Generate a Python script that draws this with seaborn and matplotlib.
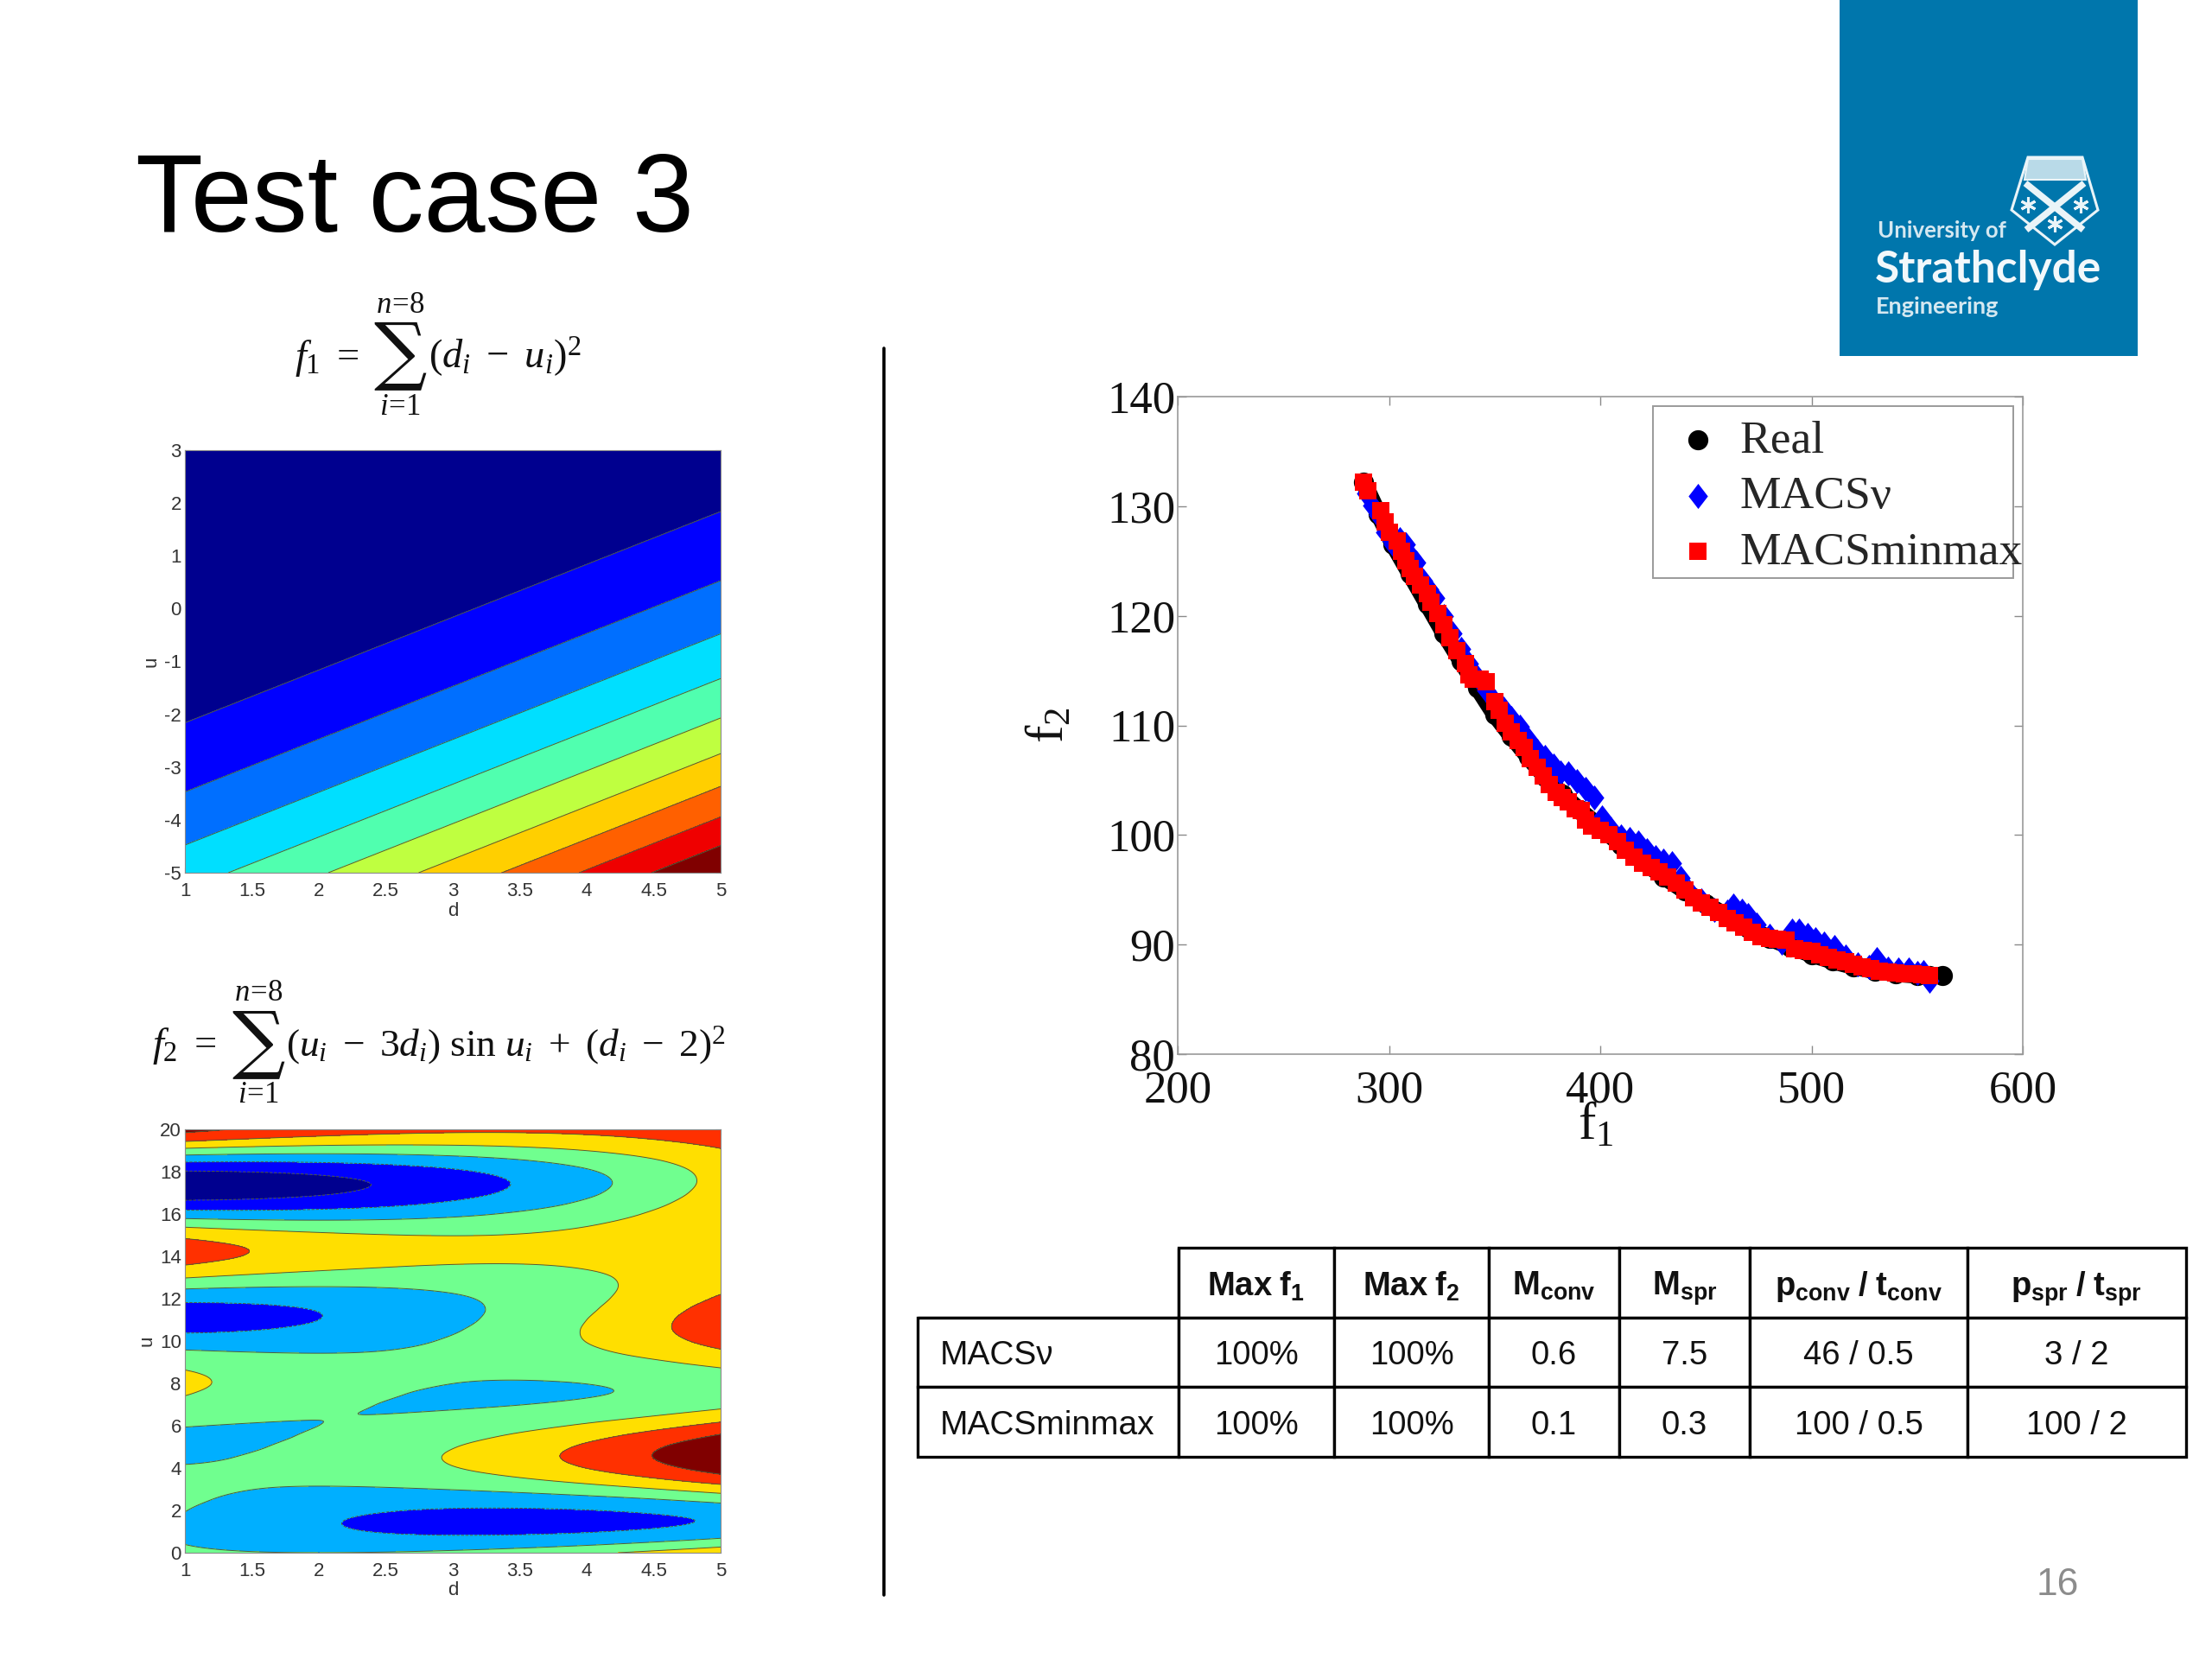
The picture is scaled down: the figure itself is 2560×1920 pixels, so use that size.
import numpy as np
import matplotlib
matplotlib.use("Agg")
import matplotlib.pyplot as plt
from matplotlib.markers import MarkerStyle
from matplotlib.path import Path
from matplotlib.patches import Rectangle, Polygon
import seaborn as sns

# ---------- data ----------
TITLE = "Test case 3"
D_TICKS = [1, 1.5, 2, 2.5, 3, 3.5, 4, 4.5, 5]
D_LABELS = ["1", "1.5", "2", "2.5", "3", "3.5", "4", "4.5", "5"]
U1_TICKS = [-5, -4, -3, -2, -1, 0, 1, 2, 3]
U2_TICKS = list(range(0, 21, 2))

F1_D = [1, 2, 3, 4, 5]
F1_U = [-5, -3, -1, 1, 3]
F1_Z = [[36, 49, 64, 81, 100],
        [16, 25, 36, 49, 64],
        [4, 9, 16, 25, 36],
        [0, 1, 4, 9, 16],
        [4, 1, 0, 1, 4]]
F1_LEVELS = [-50, 10, 20, 30, 40, 50, 60, 70, 80, 90, 200]
F1_COLORS = ["#00008F", "#0000FF", "#006FFF", "#00DFFF", "#50FFAF",
             "#BFFF40", "#FFCF00", "#FF6000", "#EF0000", "#800000"]

F2_D = [1, 2, 3, 4, 5]
F2_U = [0, 0.5, 1, 1.5, 2, 2.5, 3, 3.5, 4, 4.5, 5, 5.5, 6, 6.5, 7, 7.5, 8, 8.5, 9, 9.5, 10,
        10.5, 11, 11.5, 12, 12.5, 13, 13.5, 14, 14.5, 15, 15.5, 16, 16.5, 17, 17.5, 18, 18.5,
        19, 19.5, 20]
F2_Z = [[1.0, 0.0, 1.0, 4.0, 9.0],
        [-0.20, -2.64, -3.07, -1.51, 2.05],
        [-0.68, -4.21, -5.73, -5.26, -2.78],
        [-0.50, -4.49, -6.48, -6.47, -4.47],
        [0.09, -3.64, -5.37, -5.09, -2.82],
        [0.70, -2.09, -2.89, -1.69, 1.52],
        [1.0, -0.42, 0.15, 2.73, 7.31],
        [0.82, 0.88, 2.93, 6.98, 13.03],
        [0.24, 1.51, 4.78, 10.05, 17.32],
        [-0.47, 1.47, 5.40, 11.33, 19.26],
        [-0.92, 0.96, 4.84, 10.71, 18.59],
        [-0.76, 0.35, 3.47, 8.59, 15.70],
        [0.16, 0.0, 1.84, 5.68, 11.51],
        [1.75, 0.11, 0.46, 2.82, 7.17],
        [3.63, 0.66, -0.31, 0.71, 3.74],
        [5.22, 1.41, -0.41, -0.22, 1.97],
        [5.95, 1.98, 0.01, 0.04, 2.07],
        [5.39, 2.00, 0.60, 1.21, 3.81],
        [3.47, 1.24, 1.0, 2.76, 6.53],
        [0.51, -0.26, 0.96, 4.19, 9.41],
        [-2.81, -2.18, 0.46, 5.09, 11.72],
        [-5.60, -3.96, -0.32, 5.32, 12.96],
        [-7.0, -5.0, -1.0, 5.0, 13.0],
        [-6.44, -4.82, -1.19, 4.44, 12.06],
        [-3.83, -3.22, -0.61, 4.0, 10.61],
        [0.37, -0.43, 0.77, 3.97, 9.17],
        [5.2, 2.94, 2.68, 4.42, 8.16],
        [9.44, 6.03, 4.62, 5.21, 7.79],
        [11.9, 7.92, 5.95, 5.98, 8.01],
        [11.75, 7.95, 6.14, 6.34, 8.53],
        [8.8, 5.85, 4.9, 5.95, 9.0],
        [3.58, 1.96, 2.34, 4.72, 9.10],
        [-2.74, -2.88, -1.02, 2.85, 8.71],
        [-8.61, -7.47, -4.34, 0.80, 7.93],
        [-12.46, -10.58, -6.69, -0.81, 7.08],
        [-13.15, -11.22, -7.29, -1.37, 6.56],
        [-10.27, -9.01, -5.76, -0.51, 6.75],
        [-4.31, -4.28, -2.25, 1.77, 7.80],
        [3.4, 1.95, 2.5, 5.05, 9.6],
        [10.99, 8.17, 7.36, 8.54, 11.72],
        [16.52, 12.78, 11.04, 11.3, 13.56]]
F2_LEVELS = [-40, -10, -5, 0, 5, 10, 15, 60]
F2_COLORS = ["#00008F", "#0000FF", "#00AFFF", "#70FF8F", "#FFDF00", "#FF3000", "#800000"]

REAL_F1 = [288, 295, 302, 310, 318, 326, 334, 342, 350, 358, 366, 374, 382, 390, 400, 410,
           420, 430, 440, 450, 460, 470, 480, 490, 500, 510, 520, 530, 540, 550, 556, 562]
REAL_F2 = [132.2, 129.3, 126.5, 123.8, 121.1, 118.4, 115.9, 113.4, 111.0, 109.0, 107.1, 105.3,
           103.7, 102.3, 100.7, 99.1, 97.6, 96.2, 94.9, 93.7, 92.6, 91.5, 90.6, 89.8, 89.1,
           88.5, 88.0, 87.6, 87.35, 87.2, 87.15, 87.2]

MACSV_F1 = [289, 292, 295, 298, 302, 305, 308, 311, 313, 316, 319, 322, 326, 330, 334, 338, 342,
            346, 350, 354, 358, 362, 366, 370, 374, 378, 381, 385, 389, 393, 397, 401, 405, 410,
            414, 418, 422, 426, 430, 434, 438, 442, 448, 454, 460, 463, 467, 470, 474, 480, 486,
            491, 494, 498, 502, 506, 511, 516, 522, 527, 531, 536, 541, 546, 550, 553, 556]
MACSV_F2 = [131.2, 130.1, 129.2, 127.6, 126.5, 127.0, 126.5, 125.3, 124.9, 123.2, 122.4, 121.6,
            120.0, 118.4, 117.0, 115.6, 114.4, 113.2, 112.2, 111.5, 110.7, 109.9, 108.7, 107.7,
            107.1, 106.3, 105.7, 105.6, 104.9, 104.2, 103.4, 101.6, 100.6, 99.9, 99.6, 99.3, 98.6,
            98.0, 97.7, 97.4, 96.1, 94.8, 94.0, 93.2, 93.0, 93.6, 93.1, 92.7, 91.8, 90.8, 90.2,
            91.3, 91.3, 90.9, 90.5, 90.1, 89.8, 88.9, 88.2, 88.0, 88.7, 87.8, 87.7, 87.7, 87.4,
            87.5, 86.7]

MINMAX_F1 = [288, 290, 296, 298, 300, 304, 306, 308, 310, 312, 315, 318, 320, 323, 326, 329, 332,
             336, 338, 340, 343, 346, 350, 352, 355, 358, 361, 364, 367, 370, 373, 376, 379, 382,
             385, 388, 391, 393, 396, 400, 404, 408, 412, 416, 420, 424, 428, 432, 436, 440, 444,
             448, 452, 456, 460, 464, 468, 472, 476, 480, 484, 488, 492, 496, 500, 504, 508, 512,
             516, 520, 524, 528, 532, 536, 540, 544, 548, 552, 556]
MINMAX_F2 = [132.2, 131.4, 129.6, 128.6, 127.6, 126.8, 125.9, 125.0, 124.3, 123.6, 122.8, 122.0,
             121.2, 120.2, 119.2, 118.0, 116.8, 115.6, 114.6, 114.2, 114.2, 114.0, 112.2, 111.4,
             110.2, 109.4, 108.6, 108.0, 107.0, 106.2, 105.4, 104.6, 103.9, 103.4, 103.0, 102.4,
             102.2, 101.4, 100.8, 100.4, 100.0, 99.4, 98.6, 98.0, 97.4, 97.0, 96.6, 96.2, 95.6,
             95.0, 94.3, 93.8, 93.4, 92.9, 92.4, 92.0, 91.6, 91.1, 90.7, 90.6, 90.5, 90.4, 89.6,
             89.5, 89.4, 89.1, 88.8, 88.6, 88.4, 88.2, 88.0, 87.8, 87.6, 87.5, 87.4, 87.35, 87.3,
             87.25, 87.2]

PARETO_X_TICKS = [200, 300, 400, 500, 600]
PARETO_Y_TICKS = [80, 90, 100, 110, 120, 130, 140]

TABLE_HEAD = ["", r"$\mathbf{Max\ f_1}$", r"$\mathbf{Max\ f_2}$", r"$\mathbf{M_{conv}}$",
              r"$\mathbf{M_{spr}}$", r"$\mathbf{p_{conv}\ /\ t_{conv}}$", r"$\mathbf{p_{spr}\ /\ t_{spr}}$"]
TABLE_ROW1 = ["MACS\u03bd", "100%", "100%", "0.6", "7.5", "46 / 0.5", "3 / 2"]
TABLE_ROW2 = ["MACSminmax", "100%", "100%", "0.1", "0.3", "100 / 0.5", "100 / 2"]
PAGE = "16"

# ---------- style ----------
sns.set_theme(style="white")
plt.rcParams["font.family"] = ["Liberation Sans", "DejaVu Sans"]
plt.rcParams["axes.unicode_minus"] = False
plt.rcParams["mathtext.fontset"] = "custom"
plt.rcParams["mathtext.rm"] = "Liberation Serif"
plt.rcParams["mathtext.it"] = "Liberation Serif:italic"
plt.rcParams["mathtext.bf"] = "Liberation Sans:bold"

W, H = 2560, 1920
fig = plt.figure(figsize=(25.6, 19.2), dpi=100, facecolor="white")


def axes_px(l, t, r, b, **kw):
    return fig.add_axes([l / W, 1 - b / H, (r - l) / W, (b - t) / H], **kw)


bg = axes_px(0, 0, W, H)
bg.set_xlim(0, W)
bg.set_ylim(H, 0)
bg.axis("off")

# ---------- slide furniture ----------
bg.text(157, 268, TITLE, fontsize=92, color="black", ha="left", va="baseline")
bg.plot([1023, 1023], [403, 1846], color="black", lw=2.6)
bg.text(2381, 1834, PAGE, fontsize=32, color="#8C8C8C", ha="center", va="center")

# logo
LOGO = "#0076AC"
bg.add_patch(Rectangle((2129, 0), 345, 412, color=LOGO, lw=0))
LW = "#EAF4F8"
bg.add_patch(Polygon([(2347, 182), (2410, 182), (2428, 243), (2378, 283), (2328, 243)],
                     closed=True, facecolor=LOGO, edgecolor=LW, lw=2.2))
bg.add_patch(Polygon([(2347, 184), (2410, 184), (2414, 208), (2343, 208)],
                     closed=True, facecolor="#B9DAE8", edgecolor=LW, lw=1.5))
bg.plot([2344, 2411], [212, 266], color=LW, lw=5.5, solid_capstyle="butt")
bg.plot([2412, 2345], [212, 266], color=LW, lw=5.5, solid_capstyle="butt")
for sx, sy in [(2347, 237), (2408, 237), (2378, 259)]:
    bg.plot([sx], [sy], marker=(6, 2, 0), ms=13, mew=2.2, color=LW)
bg.text(2173, 267, "University of", fontsize=18.5, fontweight="bold", color="#D5E8F1",
        family="Lato", ha="left", va="center")
bg.text(2170, 312, "Strathclyde", fontsize=37, fontweight="bold", color="#F2F8FB",
        family="Lato", ha="left", va="center")
bg.text(2171, 355, "Engineering", fontsize=19.5, fontweight="bold", color="#D5E8F1",
        family="Lato", ha="left", va="center")

# formulas
FS = 33.5
INK = "#111111"
bg.text(341, 426, r"$f_1\ =$", fontsize=FS, color=INK, ha="left", va="baseline")
bg.text(463, 411, "\u2211", fontsize=62, family="DejaVu Serif", color=INK, ha="center", va="center")
bg.text(463, 352, r"$n\!=\!8$", fontsize=25, color=INK, ha="center", va="center")
bg.text(463, 471, r"$i\!=\!1$", fontsize=25, color=INK, ha="center", va="center")
bg.text(496, 426, r"$(d_i\ -\ u_i)^2$", fontsize=FS, color=INK, ha="left", va="baseline")

bg.text(176, 1222, r"$f_2\ =$", fontsize=FS, color=INK, ha="left", va="baseline")
bg.text(299, 1208, "\u2211", fontsize=62, family="DejaVu Serif", color=INK, ha="center", va="center")
bg.text(299, 1148, r"$n\!=\!8$", fontsize=25, color=INK, ha="center", va="center")
bg.text(299, 1267, r"$i\!=\!1$", fontsize=25, color=INK, ha="center", va="center")
bg.text(331, 1222, r"$(u_i\ -\ 3d_i)\ \sin\,u_i\ +\ (d_i\ -\ 2)^2$", fontsize=32.7, color=INK,
        ha="left", va="baseline")


# ---------- contour panels ----------
def resample(d, u, z, nd=161, per_step=12):
    """Smooth the read table for drawing: quadratic across d, Catmull-Rom along u."""
    d, u, z = np.asarray(d, float), np.asarray(u, float), np.asarray(z, float)
    dd = np.linspace(d[0], d[-1], nd)
    rows = np.array([np.polyval(np.polyfit(d, r, 2), dd) for r in z])
    p = np.vstack([3 * rows[0] - 3 * rows[1] + rows[2], rows, 3 * rows[-1] - 3 * rows[-2] + rows[-3]])
    t = np.linspace(0, len(u) - 1, (len(u) - 1) * per_step + 1)
    i = np.minimum(t.astype(int), len(u) - 2)
    s = (t - i)[:, None]
    zz = 0.5 * (2 * p[i + 1] + (p[i + 2] - p[i]) * s
                + (2 * p[i] - 5 * p[i + 1] + 4 * p[i + 2] - p[i + 3]) * s ** 2
                + (3 * p[i + 1] - p[i] - 3 * p[i + 2] + p[i + 3]) * s ** 3)
    return dd, np.interp(t, np.arange(len(u)), u), zz


def contour_panel(rect, d, u, z, levels, colors, yticks):
    ax = axes_px(*rect)
    dd, uu, zz = resample(d, u, z)
    ax.contourf(dd, uu, zz, levels=levels, colors=colors, antialiased=False)
    ax.contour(dd, uu, zz, levels=levels[1:-1], colors="#4F5B3A", linewidths=0.7)
    ax.set_xlim(min(d), max(d))
    ax.set_ylim(min(u), max(u))
    ax.set_xticks(D_TICKS)
    ax.set_xticklabels(D_LABELS)
    ax.set_yticks(yticks)
    ax.tick_params(axis="both", which="major", direction="in", length=4, width=0.8, color="#777777",
                   labelsize=16, labelcolor="#333333", top=True, right=True, bottom=True, left=True)
    ax.tick_params(axis="x", pad=8)
    ax.tick_params(axis="y", pad=3)
    for s in ax.spines.values():
        s.set_color("#8A8A8A")
        s.set_linewidth(0.8)
        s.set_visible(True)
    ax.set_xlabel("d", fontsize=16, color="#333333", labelpad=1)
    ax.set_ylabel("u", fontsize=16, color="#333333", labelpad=3)
    return ax


contour_panel((214, 521, 834, 1010), F1_D, F1_U, F1_Z, F1_LEVELS, F1_COLORS, U1_TICKS)
contour_panel((214, 1307, 834, 1797), F2_D, F2_U, F2_Z, F2_LEVELS, F2_COLORS, U2_TICKS)

# ---------- Pareto panel ----------
AX_L, AX_T, AX_R, AX_B = 1363, 459, 2341, 1220
ax = axes_px(AX_L, AX_T, AX_R, AX_B)
SERIF = ["Liberation Serif", "DejaVu Serif"]
diamond = MarkerStyle(Path([(0, -1.3), (1, 0), (0, 1.3), (-1, 0), (0, -1.3)], closed=True))
sns.lineplot(x=REAL_F1, y=REAL_F2, ax=ax, color="black", lw=14, estimator=None, sort=False,
             solid_capstyle="round", zorder=1, legend=False)
sns.scatterplot(x=REAL_F1, y=REAL_F2, ax=ax, color="black", marker="o", s=280, linewidth=0,
                label="Real", zorder=2)
sns.scatterplot(x=MACSV_F1, y=MACSV_F2, ax=ax, color="#0000FF", marker=diamond, s=440, linewidth=0,
                label="MACS\u03bd", zorder=3)
sns.scatterplot(x=MINMAX_F1, y=MINMAX_F2, ax=ax, color="#FF0000", marker="s", s=215, linewidth=0,
                label="MACSminmax", zorder=4)
ax.set_xlim(200, 600)
ax.set_ylim(80, 140)
ax.set_xticks(PARETO_X_TICKS)
ax.set_yticks(PARETO_Y_TICKS)
ax.tick_params(axis="both", direction="in", length=7, width=1, color="#8A8A8A", top=True, right=True,
               bottom=True, left=True, labelsize=38, labelcolor="#111111")
ax.tick_params(axis="x", pad=13)
ax.tick_params(axis="y", pad=2)
for lab in ax.get_xticklabels() + ax.get_yticklabels():
    lab.set_family(SERIF)
for s in ax.spines.values():
    s.set_color("#9A9A9A")
    s.set_linewidth(1.2)
    s.set_visible(True)
ax.set_xlabel(r"$\mathregular{f_1}$", fontsize=44, family=SERIF, color="#111111")
ax.xaxis.set_label_coords(0.495, -0.072)
ax.set_ylabel(r"$\mathregular{f_2}$", fontsize=44, family=SERIF, color="#111111")
ax.yaxis.set_label_coords(-0.122, 0.5)

AW, AH = AX_R - AX_L, AX_B - AX_T
ax.add_patch(Rectangle(((1913 - AX_L) / AW, 1 - (669 - AX_T) / AH), 417 / AW, 199 / AH,
                       transform=ax.transAxes, facecolor="white", edgecolor="#9A9A9A", lw=1.4, zorder=5))
leg = ax.legend(loc="upper left", bbox_to_anchor=((1912 - AX_L) / AW, 1 - (459 - AX_T) / AH),
                frameon=False, prop={"family": SERIF, "size": 38.5}, borderaxespad=0, borderpad=0.5,
                labelspacing=0.30, handletextpad=0.39, handlelength=1.0, scatterpoints=1)
leg.set_zorder(6)

# ---------- table ----------
tax = axes_px(1062, 1444, 2530, 1686)
tax.axis("off")
col_px = [185, 110, 110, 92, 93, 154, 155]
tbl = tax.table(cellText=[TABLE_HEAD, TABLE_ROW1, TABLE_ROW2], colWidths=[c / sum(col_px) for c in col_px],
                cellLoc="center", bbox=[0, 0, 1, 1])
tbl.auto_set_font_size(False)
tbl.set_fontsize(27.5)
for (r, c), cell in tbl.get_celld().items():
    cell.set_linewidth(2.4)
    cell.set_edgecolor("black")
    cell.get_text().set_color("#111111")
    cell.get_text().set_va("center_baseline")
    if c == 0:
        cell.set_text_props(ha="left", fontsize=28)
        cell.PAD = 0.085
tbl[(0, 0)].visible_edges = "BR"

fig.savefig("out.png", dpi=100, facecolor="white")
